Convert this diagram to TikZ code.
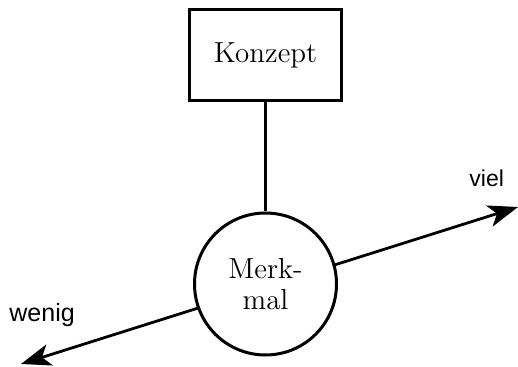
\documentclass[tikz,border=0pt]{standalone}
\usepackage{fontspec}
\newfontfamily\helv{Liberation Sans}
\usetikzlibrary{arrows.meta}
\tikzset{
  boxnode/.style={draw, line width=1.5pt, minimum width=76pt, minimum height=45.5pt, inner sep=0pt, font=\fontsize{14.5}{17}\selectfont},
  circnode/.style={draw, circle, fill=white, line width=1.5pt, minimum size=71pt, inner sep=0pt, align=center, font=\fontsize{14.5}{15.5}\selectfont},
  conn/.style={line width=1.4pt},
  arr/.style={line width=1.4pt, {Stealth[length=15pt,width=11pt,inset=4pt]}-{Stealth[length=15pt,width=11pt,inset=4pt]}},
  lbl/.style={anchor=base west, inner sep=0pt, font=\helv\fontsize{11.5}{13}\selectfont},
}
\begin{document}
\begin{tikzpicture}[x=0.5pt,y=-0.5pt]
\useasboundingbox (0,0) rectangle (518,367);
\node[boxnode] (k) at (265.5,55) {Konzept};
\coordinate (lt) at (21,364);
\coordinate (rt) at (518,207);
\draw[arr] (lt) -- (rt);
\node[circnode] (m) at (265.5,284) {Merk-\\mal};
\draw[conn] (k.south) -- (m.north);
\node[lbl] (v) at (469,187) {viel};
\node[lbl, font=\helv\fontsize{12.5}{14}\selectfont] (w) at (9,322) {wenig};
\end{tikzpicture}
\end{document}
